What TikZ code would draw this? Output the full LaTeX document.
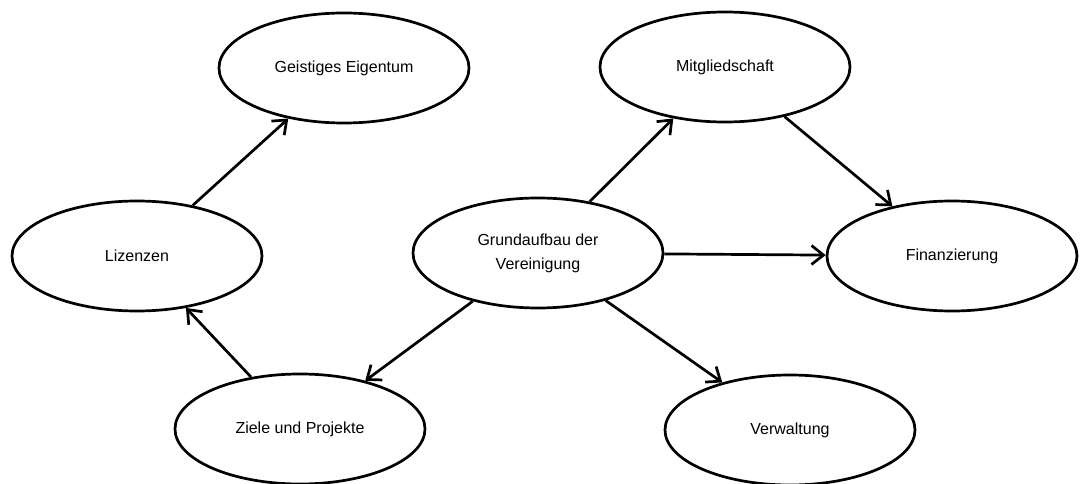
\documentclass[tikz,border=0pt]{standalone}
\usepackage{fontspec}
\setmainfont{Liberation Sans}
\usetikzlibrary{shapes.geometric,arrows.meta}
\begin{document}
\begin{tikzpicture}[x=1pt,y=-1pt,
  topic/.style={ellipse, draw=black, line width=2.7pt, minimum width=250pt, minimum height=110pt, inner sep=0pt, align=center, font=\fontsize{16}{24}\selectfont},
  link/.style={line width=2.7pt, -{Straight Barb[length=12pt,width=19pt]}}]
\useasboundingbox (0,0) rectangle (1080,484);
\node[topic] (ge) at (344,68) {Geistiges Eigentum};
\node[topic] (mi) at (725,67) {Mitgliedschaft};
\node[topic] (li) at (137,256) {Lizenzen};
\node[topic] (gr) at (538,253) {Grundaufbau der\\Vereinigung};
\node[topic] (fi) at (952,256) {Finanzierung};
\node[topic] (zi) at (300,429) {Ziele und Projekte};
\node[topic] (ve) at (790,430) {Verwaltung};
\draw[link] (li) -- (ge);
\draw[link] (gr) -- (mi);
\draw[link] (mi) -- (fi);
\draw[link] (gr) -- (fi);
\draw[link] (gr) -- (ve);
\draw[link] (gr) -- (zi);
\draw[link] (zi) -- (li);
\end{tikzpicture}
\end{document}
